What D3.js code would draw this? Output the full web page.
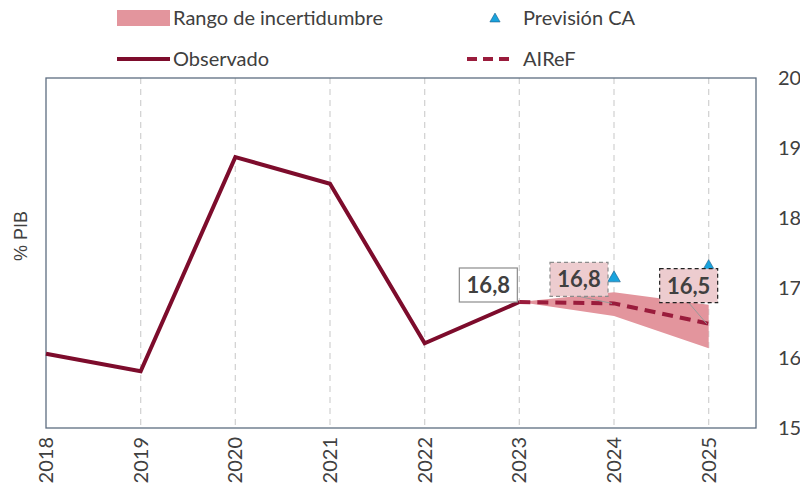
<!DOCTYPE html>
<html>
<head>
<meta charset="utf-8">
<script src="https://cdn.jsdelivr.net/npm/d3@7"></script>
<style>
  body { margin: 0; background: #fff; }
  svg { display: block; }
</style>
</head>
<body>
<svg id="chart" width="800" height="492"></svg>
<script>
// Data
const years = [2018, 2019, 2020, 2021, 2022, 2023, 2024, 2025]
const observed = [16.06, 15.81, 18.87, 18.49, 16.21, 16.8]
const airef_years = [2023, 2024, 2025]
const airef = [16.8, 16.78, 16.49]
const band_low = [16.8, 16.6, 16.14]
const band_high = [16.8, 16.94, 16.76]
const ca_years = [2024, 2025]
const ca_values = [17.14, 17.3]
const y_ticks = [15, 16, 17, 18, 19, 20]

const colors = {
  observed: '#7d0c2c',
  airef: '#9a1c3c',
  band: '#e3959d',
  ca: '#19a3dd',
  text: '#404040',
  frame: '#5d6d80',
  grid: '#d4d4d4'
}

const svg = d3.select('#chart')
const margin = { left: 46, right: 756, top: 78, bottom: 428 }

const x = d3.scaleLinear().domain([2018, 2025.5]).range([margin.left, margin.right])
const y = d3.scaleLinear().domain([15, 20]).range([margin.bottom, margin.top])

// Vertical grid lines
svg.append('g')
  .selectAll('line')
  .data(years.slice(1))
  .join('line')
  .attr('x1', d => x(d)).attr('x2', d => x(d))
  .attr('y1', margin.top).attr('y2', margin.bottom)
  .style('stroke', colors.grid)
  .style('stroke-width', 1.3)
  .style('stroke-dasharray', '6,5')

// Plot frame
svg.append('rect')
  .attr('x', margin.left).attr('y', margin.top)
  .attr('width', margin.right - margin.left)
  .attr('height', margin.bottom - margin.top)
  .style('fill', 'none')
  .style('stroke', colors.frame)
  .style('stroke-width', 1.3)

// Right axis
const y_axis = svg.append('g')
  .attr('transform', `translate(${margin.right},0)`)
  .call(d3.axisRight(y).tickValues(y_ticks).tickSize(0).tickPadding(22))
y_axis.select('.domain').remove()
y_axis.selectAll('text')
  .style('font-family', 'Lato, sans-serif')
  .style('font-size', '20px')
  .style('fill', colors.text)

// Bottom axis: rotated year labels
svg.append('g')
  .selectAll('text')
  .data(years)
  .join('text')
  .attr('transform', d => `translate(${x(d) + 7},${margin.bottom + 9}) rotate(-90)`)
  .attr('text-anchor', 'end')
  .style('font-family', 'Lato, sans-serif')
  .style('font-size', '20px')
  .style('fill', colors.text)
  .text(d => d)

// Axis title
svg.append('text')
  .attr('transform', `translate(27,236) rotate(-90)`)
  .attr('text-anchor', 'middle')
  .style('font-family', 'Liberation Sans, Arial, sans-serif')
  .style('font-size', '18px')
  .style('fill', colors.text)
  .text('% PIB')

// Uncertainty band
const band_data = airef_years.map((d, i) => ({ year: d, lo: band_low[i], hi: band_high[i] }))
svg.append('path')
  .datum(band_data)
  .attr('d', d3.area().x(d => x(d.year)).y0(d => y(d.lo)).y1(d => y(d.hi)))
  .style('fill', colors.band)

// Observed line
svg.append('path')
  .datum(observed.map((v, i) => [years[i], v]))
  .attr('d', d3.line().x(d => x(d[0])).y(d => y(d[1])))
  .style('fill', 'none')
  .style('stroke', colors.observed)
  .style('stroke-width', 4)

// AIReF dashed line
svg.append('path')
  .datum(airef.map((v, i) => [airef_years[i], v]))
  .attr('d', d3.line().x(d => x(d[0])).y(d => y(d[1])))
  .style('fill', 'none')
  .style('stroke', colors.airef)
  .style('stroke-width', 4)
  .style('stroke-dasharray', '11,7')

// CA triangles
const tri = d3.symbol().type(d3.symbolTriangle).size(70)
svg.append('g')
  .selectAll('path')
  .data(ca_values.map((v, i) => [ca_years[i], v]))
  .join('path')
  .attr('d', tri)
  .attr('transform', d => `translate(${x(d[0])},${y(d[1])})`)
  .style('fill', colors.ca)
  .style('stroke', '#1b5a86')
  .style('stroke-width', 0.6)

// Data labels
const labels = [
  { year: 2023, value: observed[5], dx: -31, dy: -17, fill: '#fff', stroke: '#8c8c8c', dash: null, leader: false },
  { year: 2024, value: airef[1], dx: -35, dy: -24, fill: '#edcccf', stroke: '#8c8c8c', dash: '4,3', leader: true },
  { year: 2025, value: airef[2], dx: -20, dy: -38, fill: '#edcccf', stroke: '#222', dash: '4,3', leader: true }
]
const fmt = v => d3.format('.1f')(v).replace('.', ',')
const box_w = 58, box_h = 34
labels.forEach(l => {
  const cx = x(l.year) + l.dx
  const cy = y(l.value) + l.dy
  if (l.leader) {
    svg.append('line')
      .attr('x1', cx).attr('y1', cy + box_h / 2)
      .attr('x2', x(l.year) - 2).attr('y2', y(l.value))
      .style('stroke', '#9a9a9a')
      .style('stroke-width', 1)
  }
  svg.append('rect')
    .attr('x', cx - box_w / 2).attr('y', cy - box_h / 2)
    .attr('width', box_w).attr('height', box_h)
    .style('fill', l.fill)
    .style('stroke', l.stroke)
    .style('stroke-width', 1.2)
    .style('stroke-dasharray', l.dash)
  svg.append('text')
    .attr('x', cx).attr('y', cy + 8)
    .attr('text-anchor', 'middle')
    .style('font-family', 'Lato, sans-serif')
    .style('font-weight', 'bold')
    .style('font-size', '22px')
    .style('fill', colors.text)
    .text(fmt(l.value))
})

// Legend
const legend = svg.append('g')
  .style('font-family', 'Lato, sans-serif')
  .style('font-size', '20px')
  .style('fill', colors.text)

legend.append('rect')
  .attr('x', 117).attr('y', 10).attr('width', 53).attr('height', 16)
  .style('fill', colors.band)
legend.append('text').attr('x', 173).attr('y', 25).text('Rango de incertidumbre')

legend.append('path')
  .attr('d', d3.symbol().type(d3.symbolTriangle).size(45))
  .attr('transform', 'translate(495,19)')
  .style('fill', colors.ca)
  .style('stroke', '#1b5a86')
  .style('stroke-width', 0.6)
legend.append('text').attr('x', 523).attr('y', 25).text('Previsión CA')

legend.append('line')
  .attr('x1', 117).attr('x2', 170).attr('y1', 59).attr('y2', 59)
  .style('stroke', colors.observed).style('stroke-width', 4)
legend.append('text').attr('x', 173).attr('y', 66).text('Observado')

legend.append('line')
  .attr('x1', 467).attr('x2', 515).attr('y1', 59).attr('y2', 59)
  .style('stroke', colors.airef).style('stroke-width', 4)
  .style('stroke-dasharray', '10,6')
legend.append('text').attr('x', 523).attr('y', 66).text('AIReF')
</script>
</body>
</html>
